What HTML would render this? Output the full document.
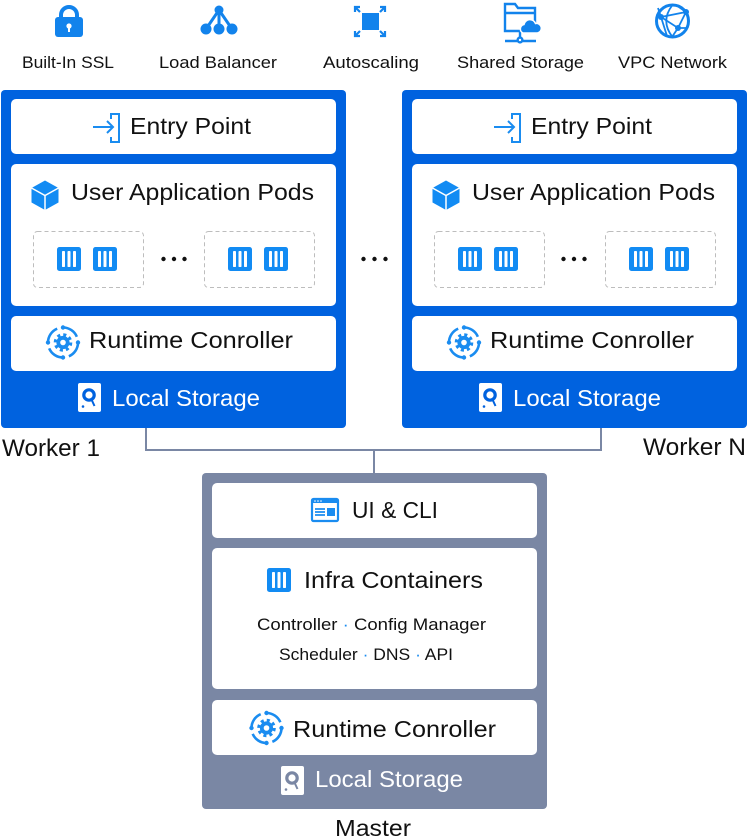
<!DOCTYPE html>
<html><head><meta charset="utf-8"><style>
html,body{margin:0;padding:0;background:#fff;}
svg{display:block;}
text{font-family:"Liberation Sans",Arial,sans-serif;fill:#111;}
</style></head><body>
<svg width="747" height="838" viewBox="0 0 747 838" xmlns="http://www.w3.org/2000/svg">
<defs>
  <g id="cont">
    <rect x="0" y="0" width="24" height="24" rx="2.5" fill="#128BF3"/>
    <rect x="5" y="4" width="3" height="16" rx="0.8" fill="#fff"/>
    <rect x="10.5" y="4" width="3" height="16" rx="0.8" fill="#fff"/>
    <rect x="16" y="4" width="3" height="16" rx="0.8" fill="#fff"/>
  </g>
  <g id="entry" fill="none" stroke="#1A8CF0" stroke-width="2">
    <path d="M2,-8 V-13 H10 V15 H2 V10"/>
    <path d="M-16,0 H4"/>
    <path d="M-2,-6 L4,0 L-2,6"/>
  </g>
  <g id="cube">
    <path d="M0,-14.5 L13.5,-7 L13.5,7.5 L0,15 L-13.5,7.5 L-13.5,-7 Z" fill="#128BF3"/>
    <path d="M-13.5,-7 L0,0.5 L13.5,-7 M0,0.5 V15" fill="none" stroke="#fff" stroke-width="1.5"/>
  </g>
  <g id="rt">
    <circle r="15" fill="none" stroke="#1A8CF0" stroke-width="2.6" stroke-dasharray="17.5 6.06"/>
    <circle cx="0" cy="-15" r="2.2" fill="#1A8CF0"/>
    <circle cx="15" cy="0" r="2.2" fill="#1A8CF0"/>
    <circle cx="0" cy="15" r="2.2" fill="#1A8CF0"/>
    <circle cx="-15" cy="0" r="2.2" fill="#1A8CF0"/>
    <circle r="7.6" fill="none" stroke="#1A8CF0" stroke-width="3.4" stroke-dasharray="3 2.97"/>
    <circle r="6.6" fill="#1A8CF0"/>
    <circle r="2.8" fill="#fff"/>
  </g>
  <g id="ls-b">
    <rect x="0" y="0" width="23" height="29" rx="2" fill="#fff"/>
    <circle cx="11" cy="12" r="5.2" fill="none" stroke="#0062DF" stroke-width="3.2"/>
    <path d="M13.5,16.5 L16.5,23" stroke="#0062DF" stroke-width="2" fill="none"/>
    <circle cx="5" cy="23.5" r="1.3" fill="#0062DF"/>
  </g>
  <g id="ls-g">
    <rect x="0" y="0" width="23" height="29" rx="2" fill="#fff"/>
    <circle cx="11" cy="12" r="5.2" fill="none" stroke="#7A87A4" stroke-width="3.2"/>
    <path d="M13.5,16.5 L16.5,23" stroke="#7A87A4" stroke-width="2" fill="none"/>
    <circle cx="5" cy="23.5" r="1.3" fill="#7A87A4"/>
  </g>
</defs>

<!-- top icons -->
<path d="M61,18 V15 A8,8 0 0 1 77,15 V18" fill="none" stroke="#1283EC" stroke-width="4"/>
<rect x="55" y="17" width="28" height="20" rx="3" fill="#1283EC"/>
<circle cx="69" cy="26" r="2.6" fill="#fff"/>
<rect x="68" y="26" width="2" height="6" fill="#fff"/>
<g stroke="#1283EC" stroke-width="3" fill="none">
<path d="M219,10 L206,29 M219,10 L219,29 M219,10 L232,29"/>
</g>
<circle cx="219" cy="10" r="4.5" fill="#1283EC"/>
<circle cx="206" cy="29" r="5.5" fill="#1283EC"/>
<circle cx="219" cy="29" r="5.5" fill="#1283EC"/>
<circle cx="232" cy="29" r="5.5" fill="#1283EC"/>
<rect x="362" y="13" width="17" height="17" fill="#1283EC"/>
<g stroke="#1283EC" stroke-width="2.2" fill="none">
<path d="M355,12 V7 H360 M355,7 L360,12"/>
<path d="M385,12 V7 H380 M385,7 L380,12"/>
<path d="M355,31 V36 H360 M355,36 L360,31"/>
<path d="M385,31 V36 H380 M385,36 L380,31"/>
</g>
<g stroke="#1283EC" stroke-width="2.4" fill="none">
<path d="M505,4 H515 L518,8 H535 V31 H505 Z"/>
<path d="M505,13 H535"/>
<path d="M520,31 V37"/>
<path d="M505,41 H517 M523,41 H536"/>
<circle cx="520" cy="40" r="2.4"/>
</g>
<g fill="#1283EC" stroke="#fff" stroke-width="1.5">
<path d="M523,33 a4.5,4.5 0 0 1 1,-8.5 a6,6 0 0 1 11.5,-1 a4.8,4.8 0 0 1 2,9.5 Z"/>
</g>
<circle cx="672.5" cy="21" r="16" fill="none" stroke="#1283EC" stroke-width="3"/>
<g stroke="#1283EC" stroke-width="1.8" fill="none">
<path d="M661,17 L686,12 L678,28 Z"/>
<path d="M661,17 L667,36 M661,17 L658,8 M678,28 L672,37 M686,12 L676,5 M678,28 L688,28"/>
<path d="M672.5,5 Q660,21 672.5,37"/>
</g>
<circle cx="661" cy="17" r="3" fill="#1283EC"/>
<circle cx="686" cy="12" r="3" fill="#1283EC"/>
<circle cx="678" cy="28" r="3" fill="#1283EC"/>

<text x="22" y="68" font-size="17" textLength="92" lengthAdjust="spacingAndGlyphs">Built-In SSL</text>
<text x="159" y="68" font-size="17" textLength="118" lengthAdjust="spacingAndGlyphs">Load Balancer</text>
<text x="323" y="68" font-size="17" textLength="96" lengthAdjust="spacingAndGlyphs">Autoscaling</text>
<text x="457" y="68" font-size="17" textLength="127" lengthAdjust="spacingAndGlyphs">Shared Storage</text>
<text x="618" y="68" font-size="17" textLength="109" lengthAdjust="spacingAndGlyphs">VPC Network</text>

<path d="M146,428 V450 H601 V428 M374,450 V473" fill="none" stroke="#7A87A4" stroke-width="2"/>

<!-- Worker 1 -->
<rect x="1" y="90" width="345" height="338" rx="4" fill="#0062DF"/>
<rect x="11" y="99" width="325" height="55" rx="5" fill="#fff"/>
<rect x="11" y="164" width="325" height="142" rx="5" fill="#fff"/>
<rect x="11" y="316" width="325" height="55" rx="5" fill="#fff"/>
<use href="#entry" x="109" y="127"/>
<text x="130" y="134" font-size="23" textLength="121" lengthAdjust="spacingAndGlyphs">Entry Point</text>
<use href="#cube" x="45" y="195"/>
<text x="71" y="200" font-size="23" textLength="243" lengthAdjust="spacingAndGlyphs">User Application Pods</text>
<rect x="33.5" y="231.5" width="110" height="56" rx="4" fill="none" stroke="#bdbdbd" stroke-dasharray="4 3"/>
<rect x="204.5" y="231.5" width="110" height="56" rx="4" fill="none" stroke="#bdbdbd" stroke-dasharray="4 3"/>
<use href="#cont" x="57" y="247"/>
<use href="#cont" x="93" y="247"/>
<use href="#cont" x="228" y="247"/>
<use href="#cont" x="264" y="247"/>
<circle cx="163.5" cy="259" r="2.2" fill="#111"/>
<circle cx="174" cy="259" r="2.2" fill="#111"/>
<circle cx="184.5" cy="259" r="2.2" fill="#111"/>
<use href="#rt" x="63" y="342.5"/>
<text x="89" y="348" font-size="23" textLength="204" lengthAdjust="spacingAndGlyphs">Runtime Conroller</text>
<use href="#ls-b" x="78" y="383"/>
<text x="112" y="406" font-size="23" textLength="148" lengthAdjust="spacingAndGlyphs" style="fill:#fff">Local Storage</text>
<text x="2" y="456" font-size="24" textLength="98" lengthAdjust="spacingAndGlyphs">Worker 1</text>

<circle cx="363.5" cy="259" r="2.2" fill="#111"/>
<circle cx="374.5" cy="259" r="2.2" fill="#111"/>
<circle cx="385.5" cy="259" r="2.2" fill="#111"/>

<!-- Worker N -->
<rect x="402" y="90" width="345" height="338" rx="4" fill="#0062DF"/>
<rect x="412" y="99" width="325" height="55" rx="5" fill="#fff"/>
<rect x="412" y="164" width="325" height="142" rx="5" fill="#fff"/>
<rect x="412" y="316" width="325" height="55" rx="5" fill="#fff"/>
<use href="#entry" x="510" y="127"/>
<text x="531" y="134" font-size="23" textLength="121" lengthAdjust="spacingAndGlyphs">Entry Point</text>
<use href="#cube" x="446" y="195"/>
<text x="472" y="200" font-size="23" textLength="243" lengthAdjust="spacingAndGlyphs">User Application Pods</text>
<rect x="434.5" y="231.5" width="110" height="56" rx="4" fill="none" stroke="#bdbdbd" stroke-dasharray="4 3"/>
<rect x="605.5" y="231.5" width="110" height="56" rx="4" fill="none" stroke="#bdbdbd" stroke-dasharray="4 3"/>
<use href="#cont" x="458" y="247"/>
<use href="#cont" x="494" y="247"/>
<use href="#cont" x="629" y="247"/>
<use href="#cont" x="665" y="247"/>
<circle cx="563.5" cy="259" r="2.2" fill="#111"/>
<circle cx="574" cy="259" r="2.2" fill="#111"/>
<circle cx="584.5" cy="259" r="2.2" fill="#111"/>
<use href="#rt" x="464" y="342.5"/>
<text x="490" y="348" font-size="23" textLength="204" lengthAdjust="spacingAndGlyphs">Runtime Conroller</text>
<use href="#ls-b" x="479" y="383"/>
<text x="513" y="406" font-size="23" textLength="148" lengthAdjust="spacingAndGlyphs" style="fill:#fff">Local Storage</text>
<text x="643" y="455" font-size="24" textLength="103" lengthAdjust="spacingAndGlyphs">Worker N</text>

<!-- Master -->
<rect x="202" y="473" width="345" height="336" rx="4" fill="#7A87A4"/>
<rect x="212" y="483" width="325" height="55" rx="5" fill="#fff"/>
<rect x="212" y="548" width="325" height="141" rx="5" fill="#fff"/>
<rect x="212" y="700" width="325" height="55" rx="5" fill="#fff"/>
<rect x="312" y="499" width="26" height="22" rx="1.5" fill="none" stroke="#1A8CF0" stroke-width="2.2"/>
<rect x="312" y="499" width="26" height="4" fill="#1A8CF0"/>
<circle cx="315" cy="501" r="0.8" fill="#fff"/>
<circle cx="318" cy="501" r="0.8" fill="#fff"/>
<circle cx="321" cy="501" r="0.8" fill="#fff"/>
<path d="M315,509 H325 M315,512 H325 M315,515 H325" stroke="#1A8CF0" stroke-width="1.8"/>
<rect x="327" y="508" width="8" height="8" fill="#1A8CF0"/>
<text x="352" y="518" font-size="23" textLength="86" lengthAdjust="spacingAndGlyphs">UI &amp; CLI</text>
<use href="#cont" x="267" y="568"/>
<text x="304" y="588" font-size="23" textLength="179" lengthAdjust="spacingAndGlyphs">Infra Containers</text>
<text x="257" y="630" font-size="17" textLength="229" lengthAdjust="spacingAndGlyphs">Controller <tspan style="fill:#1A8CF0">·</tspan> Config Manager</text>
<text x="279" y="660" font-size="17" textLength="174" lengthAdjust="spacingAndGlyphs">Scheduler <tspan style="fill:#1A8CF0">·</tspan> DNS <tspan style="fill:#1A8CF0">·</tspan> API</text>
<use href="#rt" x="266.5" y="728"/>
<text x="293" y="737" font-size="23" textLength="203" lengthAdjust="spacingAndGlyphs">Runtime Conroller</text>
<use href="#ls-g" x="281" y="766"/>
<text x="315" y="787" font-size="23" textLength="148" lengthAdjust="spacingAndGlyphs" style="fill:#fff">Local Storage</text>
<text x="335" y="836" font-size="23" textLength="76" lengthAdjust="spacingAndGlyphs">Master</text>
</svg>
</body></html>
